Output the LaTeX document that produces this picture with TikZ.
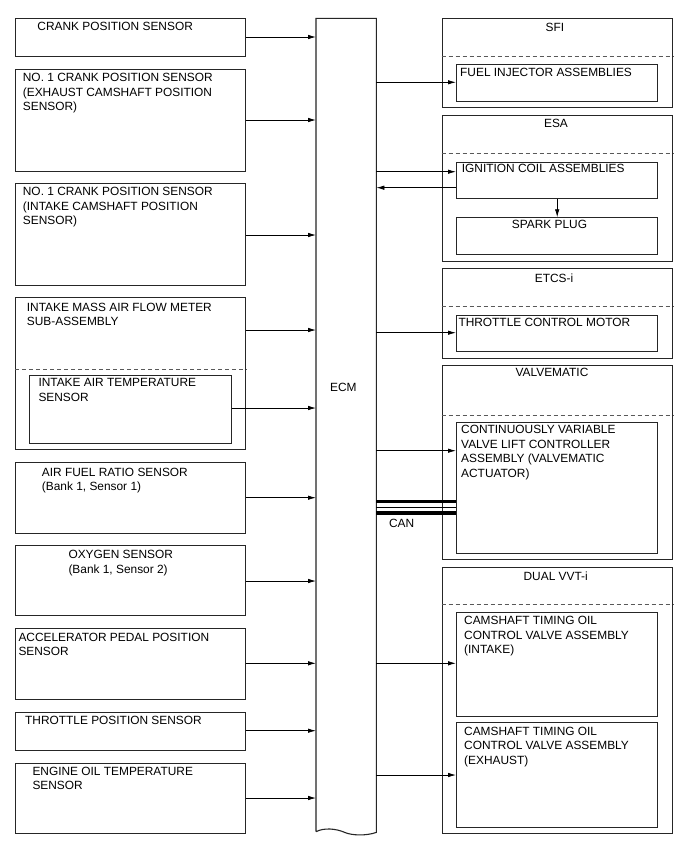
\documentclass[tikz,border=0pt]{standalone}
\usepackage{fontspec}
\setmainfont{Liberation Sans}
\usetikzlibrary{arrows.meta,calc}
\begin{document}
\begin{tikzpicture}[x=1pt,y=-1pt,
 every node/.style={font=\fontsize{11.9}{14.6}\selectfont},
 box/.style={draw=black!85, line width=1.1pt, inner sep=0pt, anchor=north west, rectangle},
 ghost/.style={inner sep=0pt, anchor=north west, rectangle},
 txt/.style={anchor=north west, inner sep=0pt, align=left},
 ttl/.style={anchor=north, inner sep=0pt},
 sepline/.style={draw=black!65, dash pattern=on 4pt off 3pt, line width=0.9pt},
 arr/.style={draw=black, line width=0.8pt, -{Latex[length=8pt,width=4.5pt]}},
 canbus/.style={draw=black, line width=3.5pt},
 canthin/.style={draw=black, line width=1pt}
]
\fill[white] (0,0) rectangle (688,852);
\useasboundingbox (0,0) rectangle (688,852);

% ---------- left sensors ----------
\node[box, minimum width=230pt, minimum height=37.4pt] (s1) at (15,18.3) {};
\node[box, minimum width=230pt, minimum height=101.7pt] (s2) at (15,69) {};
\node[box, minimum width=230pt, minimum height=102pt] (s3) at (15,183) {};
\node[box, minimum width=230pt, minimum height=152pt] (s4) at (15,297.3) {};
\node[box, minimum width=201.4pt, minimum height=68.3pt] (s4i) at (29.3,375) {};
\node[box, minimum width=230pt, minimum height=70.4pt] (s5) at (15,462.3) {};
\node[box, minimum width=230pt, minimum height=70pt] (s6) at (15,545) {};
\node[box, minimum width=230pt, minimum height=70.7pt] (s7) at (15,628.3) {};
\node[box, minimum width=230pt, minimum height=38.3pt] (s8) at (15,711.7) {};
\node[box, minimum width=230pt, minimum height=70pt] (s9) at (15,762.7) {};
\draw[sepline] (s4.west |- 0,369) -- (s4.east |- 0,369);

\node[txt] (s1t) at (37.3,22.3) {CRANK POSITION SENSOR};
\node[txt] (s2t) at (22.7,73) {NO. 1 CRANK POSITION SENSOR\\(EXHAUST CAMSHAFT POSITION\\SENSOR)};
\node[txt] (s3t) at (22.7,187) {NO. 1 CRANK POSITION SENSOR\\(INTAKE CAMSHAFT POSITION\\SENSOR)};
\node[txt] (s4t) at (26.7,302.7) {INTAKE MASS AIR FLOW METER\\SUB-ASSEMBLY};
\node[txt] (s4it) at (38.3,378.3) {INTAKE AIR TEMPERATURE\\SENSOR};
\node[txt] (s5t) at (41.7,467.7) {AIR FUEL RATIO SENSOR\\(Bank 1, Sensor 1)};
\node[txt] (s6t) at (68.3,550) {OXYGEN SENSOR\\(Bank 1, Sensor 2)};
\node[txt] (s7t) at (18.3,632.7) {ACCELERATOR PEDAL POSITION\\SENSOR};
\node[txt] (s8t) at (25,715.7) {THROTTLE POSITION SENSOR};
\node[txt] (s9t) at (32.3,766.7) {ENGINE OIL TEMPERATURE\\SENSOR};

% ---------- ECM ----------
\node[ghost, minimum width=60pt, minimum height=813pt] (ecm) at (316,18.3) {};
\draw[line width=1.1pt, draw=black!85, line join=miter]
  (ecm.south west) -- (ecm.north west) -- (ecm.north east) -- ($(ecm.south east)+(0,0.7)$)
  .. controls (366,836) and (352,835.5) .. (345,832.5)
  .. controls (336,828.5) and (324,827.5) .. (ecm.south west);
\node (ecml) at (343.3,387.5) {ECM};

% ---------- right actuators ----------
\node[box, minimum width=230.6pt, minimum height=89pt] (sfi) at (441.7,18.3) {};
\node[box, minimum width=201.3pt, minimum height=36.4pt] (fi) at (456,64.3) {};
\draw[sepline] (sfi.west |- 0,56.7) -- (sfi.east |- 0,56.7);
\node[ttl] (sfit) at (555,23.3) {SFI};
\node[txt] (fit) at (460,68.3) {FUEL INJECTOR ASSEMBLIES};

\node[box, minimum width=230.6pt, minimum height=145.7pt] (esa) at (441.7,115) {};
\node[box, minimum width=201.3pt, minimum height=36pt] (ig) at (456,161.7) {};
\node[box, minimum width=201.3pt, minimum height=36.7pt] (sp) at (456,217.3) {};
\draw[sepline] (esa.west |- 0,153.3) -- (esa.east |- 0,153.3);
\node[ttl] (esat) at (556,119) {ESA};
\node[txt] (igt) at (461.7,164.3) {IGNITION COIL ASSEMBLIES};
\node[txt] (spt) at (511.7,220) {SPARK PLUG};

\node[box, minimum width=230.6pt, minimum height=89.4pt] (etcs) at (441.7,268.3) {};
\node[box, minimum width=201.3pt, minimum height=36pt] (tc) at (456,315) {};
\draw[sepline] (etcs.west |- 0,306.7) -- (etcs.east |- 0,306.7);
\node[ttl] (etcst) at (554,273.3) {ETCS-i};
\node[txt] (tct) at (458.3,317.7) {THROTTLE CONTROL MOTOR};

\node[box, minimum width=230.6pt, minimum height=194pt] (vm) at (441.7,365) {};
\node[box, minimum width=201.3pt, minimum height=131.6pt] (cv) at (456,421.7) {};
\draw[sepline] (vm.west |- 0,415) -- (vm.east |- 0,415);
\node[ttl] (vmt) at (552,368.3) {VALVEMATIC};
\node[txt] (cvt) at (461,425) {CONTINUOUSLY VARIABLE\\VALVE LIFT CONTROLLER\\ASSEMBLY (VALVEMATIC\\ACTUATOR)};

\node[box, minimum width=230.6pt, minimum height=266.6pt] (vvt) at (441.7,566.7) {};
\node[box, minimum width=201.3pt, minimum height=104.3pt] (ci) at (456,611.7) {};
\node[box, minimum width=201.3pt, minimum height=104.4pt] (ce) at (456,722.3) {};
\draw[sepline] (vvt.west |- 0,604.3) -- (vvt.east |- 0,604.3);
\node[ttl] (vvtt) at (555.7,571.7) {DUAL VVT-i};
\node[txt] (cit) at (464,616) {CAMSHAFT TIMING OIL\\CONTROL VALVE ASSEMBLY\\(INTAKE)};
\node[txt] (cet) at (464,726.7) {CAMSHAFT TIMING OIL\\CONTROL VALVE ASSEMBLY\\(EXHAUST)};

% ---------- CAN ----------
\draw[canbus] (ecm.east |- 0,501.7) -- (cv.west |- 0,501.7);
\draw[canthin] (ecm.east |- 0,507.5) -- (cv.west |- 0,507.5);
\draw[canbus] (ecm.east |- 0,513.2) -- (cv.west |- 0,513.2);
\node[ttl] (can) at (401.7,519.3) {CAN};

% ---------- arrows into ECM ----------
\foreach \n/\yy in {s1/37, s2/120, s3/235, s4/330, s4i/408, s5/497.7, s6/581, s7/663.3, s8/730.7, s9/798}
  \draw[arr] (\n.east |- 0,\yy) -- (ecm.west |- 0,\yy);

% ---------- arrows out of ECM ----------
\foreach \n/\yy in {fi/82.3, ig/171.7, tc/332.7, cv/450.7, ci/663.3, ce/775}
  \draw[arr] (ecm.east |- 0,\yy) -- (\n.west |- 0,\yy);
\draw[arr] (ig.west |- 0,187.7) -- (ecm.east |- 0,187.7);
\draw[arr] (ig.south) -- (sp.north);
\end{tikzpicture}
\end{document}
